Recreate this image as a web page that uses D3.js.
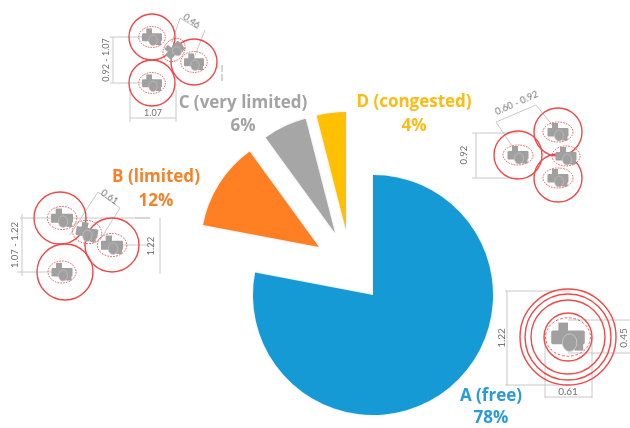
<!DOCTYPE html>
<html><head><meta charset="utf-8">
<script src="https://cdn.jsdelivr.net/npm/d3@7"></script>
<style>html,body{margin:0;padding:0;background:#fff;overflow:hidden}svg{display:block}</style>
</head><body><svg id="c" width="630" height="428"></svg>
<script>
const categories = ["A (free)", "B (limited)", "C (very limited)", "D (congested)"];
const shares = [78, 12, 6, 4];
const shareLabels = ["78%", "12%", "6%", "4%"];
const sliceColors = ["#189ad6", "#ff7f23", "#a6a6a6", "#ffc000"];
const labelColors = ["#2a9bd8", "#f5822a", "#a3a3a3", "#fdbb14"];
const explodeX = [0, -54, -38, -27];
const explodeY = [0, -48, -62, -65];
const labelX = [491, 156, 243, 414];
const labelY1 = [401, 182, 108, 107];
const labelY2 = [423, 206, 131, 131];

const svg = d3.select("#c");
const defs = svg.append("defs");
const sh = defs.append("filter").attr("id","sh").attr("x","-10%").attr("y","-10%").attr("width","120%").attr("height","120%");
sh.append("feDropShadow").attr("dx",0).attr("dy",0).attr("stdDeviation",1.2).attr("flood-color","#000").attr("flood-opacity",0.15);
defs.append("filter").attr("id","soft").append("feGaussianBlur").attr("stdDeviation",0.6);
defs.append("filter").attr("id","softT").append("feGaussianBlur").attr("stdDeviation",0.3);

// ---- technical sketches around the pie
const sk = svg.append("g").attr("filter","url(#soft)");
const RED="#f04848", GREY="#a0a0a0", DIM="#c8c8c8";
function line(x1,y1,x2,y2,c=DIM,w=1){sk.append("line").attr("x1",x1).attr("y1",y1).attr("x2",x2).attr("y2",y2).attr("stroke",c).attr("stroke-width",w);}
function ring(x,y,r,w=1.4){sk.append("circle").attr("cx",x).attr("cy",y).attr("r",r).attr("fill","none").attr("stroke",RED).attr("stroke-width",w);}
function glyph(x,y,s=1,rot=0,rx=14,ry=11){
  const g=sk.append("g").attr("transform",`translate(${x},${y}) rotate(${rot}) scale(${s})`);
  g.append("rect").attr("x",-6).attr("y",-9).attr("width",6).attr("height",7).attr("fill",GREY);
  g.append("rect").attr("x",-10.5).attr("y",-4).attr("width",21).attr("height",8.5).attr("rx",1).attr("fill",GREY);
  g.append("rect").attr("x",4).attr("y",2).attr("width",5.5).attr("height",6.5).attr("fill",GREY);
  g.append("ellipse").attr("cx",1).attr("cy",3.5).attr("rx",4.5).attr("ry",5.5).attr("fill",GREY).attr("stroke","#c8c8c8").attr("stroke-width",.6);
  g.append("ellipse").attr("cx",0).attr("cy",0).attr("rx",rx).attr("ry",ry).attr("fill","none").attr("stroke",RED).attr("stroke-width",.9/s).attr("stroke-dasharray","1.6 1.2");
}
function note(x,y,t,rot=0,size=9.5){svg.append("text").attr("transform",`translate(${x},${y}) rotate(${rot})`).attr("text-anchor","middle").attr("dominant-baseline","middle").attr("font-family","Lato, 'Open Sans', sans-serif").attr("font-size",size).attr("fill","#707070").attr("filter","url(#softT)").text(t);}

// sketch for C (top)
line(110,37,152,37); line(110,83,152,83); line(113,37,113,83);
line(130,90,130,122); line(176,90,176,122); line(130,118,176,118);
line(172,42,180,18); line(194,58,205,30); line(180,18,198,29);
ring(152,37,23); ring(194,62,23); ring(152,83,23);
glyph(152,37,.95); glyph(194,62,.95); glyph(152,83,.95); glyph(174,50,.9,-50);
note(107,60,"0.92 - 1.07",-90,9); note(153,114,"1.07",0,9); note(191,22,"0.46",35,9);
line(222,65,222,72,"#aaa"); line(222,74,222,81,"#aaa");
// sketch for D (right)
line(472,133,518,133); line(472,178,518,178); line(476,133,476,178);
line(496,122,518,155); line(536,105,558,132); line(496,122,536,105);
ring(518,155,24); ring(558,132,24); ring(558,178,24);
glyph(518,155,1,0,15,10); glyph(558,132,1,0,15,10); glyph(558,178,1,0,15,10); glyph(566,156,1,0,14,10);
note(465,155,"0.92",-90,9.5); note(517,104,"0.60 - 0.92",-24,9.5);
// sketch for B (left)
line(20,218,150,218); line(17,272,65,272); line(22,214,22,276);
line(135,218,150,218); line(118,245,155,245); line(160,218,160,274);
line(70,235,98,192); line(100,240,120,208); line(98,192,120,208);
ring(60,218,26); ring(112,245,27); ring(65,272,28);
glyph(62,218,1.05); glyph(112,245,1.05); glyph(62,272,1); glyph(87,232,1.05,10,14,11);
note(16,245,"1.07 - 1.22",-90,9.5); note(152,246,"1.22",-90,9.5); note(109,198,"0.61",35,9.5);
// sketch for A (right-bottom)
line(505,291,570,291); line(505,385,570,385); line(507,291,507,385);
line(545,337,545,398); line(592,337,592,398); line(545,397,592,397);
line(568,320,630,320); line(568,353,630,353);
[48,43,37,24].forEach(r=>ring(568,337,r,1.4));
glyph(568,337,1.6,0,14,12);
note(502,338,"1.22",-90,10); note(568,392,"0.61",0,10); note(624,338,"0.45",-90,10);

// ---- pie
const pie = d3.pie().sort(null).value(d=>d);
const arcs = pie(shares);
const cx = 373, cy = 295;
svg.append("g").selectAll("path").data(arcs).join("path")
  .attr("transform",(d,i)=>`translate(${cx+explodeX[i]},${cy+explodeY[i]})`)
  .attr("d",(d,i)=>d3.arc().innerRadius(0).outerRadius(i===0?120:118)(d))
  .attr("fill",(d,i)=>sliceColors[i]).attr("filter","url(#sh)");

// ---- labels
const lab = svg.append("g").attr("font-family","'Open Sans', sans-serif").attr("font-weight",700).attr("font-size",17).attr("text-anchor","middle").attr("filter","url(#softT)");
lab.selectAll("text.n").data(categories).join("text").attr("class","n").attr("x",(d,i)=>labelX[i]).attr("y",(d,i)=>labelY1[i]).attr("fill",(d,i)=>labelColors[i]).text(d=>d);
lab.selectAll("text.v").data(shareLabels).join("text").attr("class","v").attr("x",(d,i)=>labelX[i]).attr("y",(d,i)=>labelY2[i]).attr("fill",(d,i)=>labelColors[i]).text(d=>d);
</script></body></html>
